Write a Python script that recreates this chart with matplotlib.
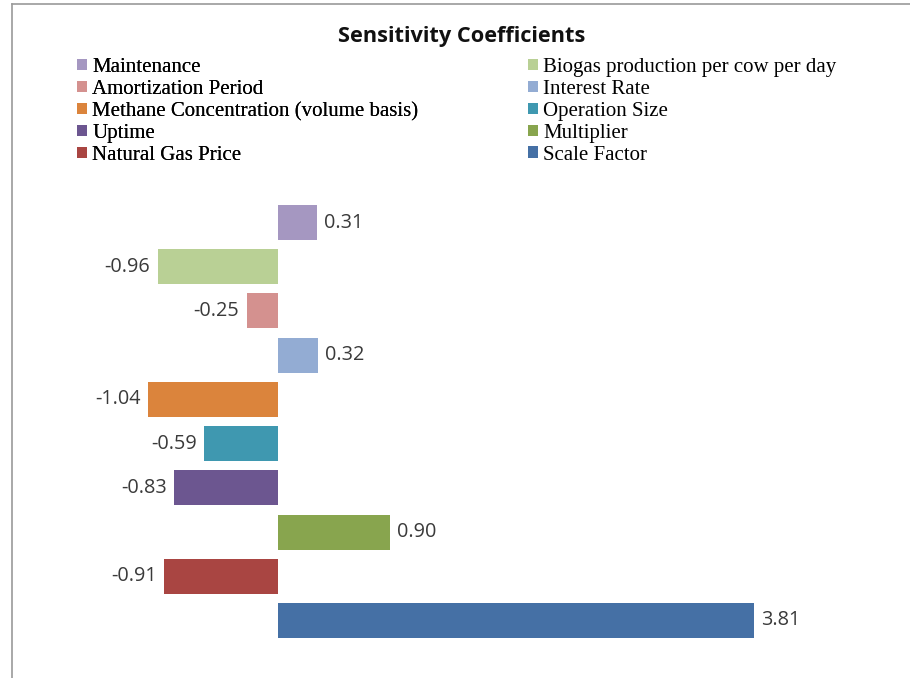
import matplotlib
matplotlib.use("Agg")
import matplotlib.pyplot as plt
from matplotlib.lines import Line2D

W, H, DPI = 910, 678, 100

factors = ["Maintenance", "Biogas production per cow per day", "Amortization Period",
           "Interest Rate", "Methane Concentration (volume basis)", "Operation Size",
           "Uptime", "Multiplier", "Natural Gas Price", "Scale Factor"]
coeffs = [0.31, -0.96, -0.25, 0.32, -1.04, -0.59, -0.83, 0.90, -0.91, 3.81]
colors = ["#a597c1", "#b9d095", "#d4918f", "#93acd3", "#db843c",
          "#3f98b0", "#6c5690", "#88a54e", "#a94542", "#4570a5"]

fig = plt.figure(figsize=(W / DPI, H / DPI), dpi=DPI)
fig.patch.set_facecolor("white")

# plot area placed in pixels: zero at x=278, 124.9 px per unit
ppu = 124.9
x0, x1 = -2.0, 5.0
left_px = 278 + x0 * ppu
right_px = 278 + x1 * ppu
pitch = 44.2
top_px = 222.5 - 0.6 * pitch
bot_px = 620.5 + 0.6 * pitch
ax = fig.add_axes([left_px / W, 1 - bot_px / H, (right_px - left_px) / W, (bot_px - top_px) / H])
ax.set_xlim(x0, x1)
ax.set_ylim(len(factors) - 1 + 0.6, -0.6)
ax.axis("off")

ypos = list(range(len(factors)))
bars = ax.barh(ypos, coeffs, height=0.79, color=colors, edgecolor="none")

for y, v in zip(ypos, coeffs):
    off, ha = (5, "left") if v >= 0 else (-5.5, "right")
    ax.annotate(f"{v:.2f}", (v, y), xytext=(off, 0), textcoords="offset points",
                ha=ha, va="center", fontsize=14.3, family="Open Sans", color="#3a3a3a")

fig.text(462 / W, 1 - 42 / H, "Sensitivity Coefficients", ha="center", va="baseline",
         fontsize=15.7, fontweight="bold", family="Open Sans", color="#111111")

# two legend columns, filled row by row
legkw = dict(frameon=False, loc="upper left", prop={"family": "Liberation Serif", "size": 15},
             handlelength=0.48, handleheight=0.48, handletextpad=0.25, labelspacing=0.14,
             borderpad=0, borderaxespad=0)
handles = list(bars)
leg1 = fig.legend([handles[i] for i in range(0, 10, 2)], [factors[i] for i in range(0, 10, 2)],
                  bbox_to_anchor=(77 / W, 1 - 58 / H), **legkw)
fig.add_artist(leg1)
fig.legend([handles[i] for i in range(1, 10, 2)], [factors[i] for i in range(1, 10, 2)],
           bbox_to_anchor=(528 / W, 1 - 58 / H), **legkw)

# chart frame edges
fig.add_artist(Line2D([12 / W, 1], [1 - 4 / H, 1 - 4 / H], color="#9a9a9a", lw=1.2))
fig.add_artist(Line2D([12 / W, 12 / W], [0, 1 - 4 / H], color="#9a9a9a", lw=1.2))

fig.savefig("out.png", dpi=DPI, facecolor="white")
